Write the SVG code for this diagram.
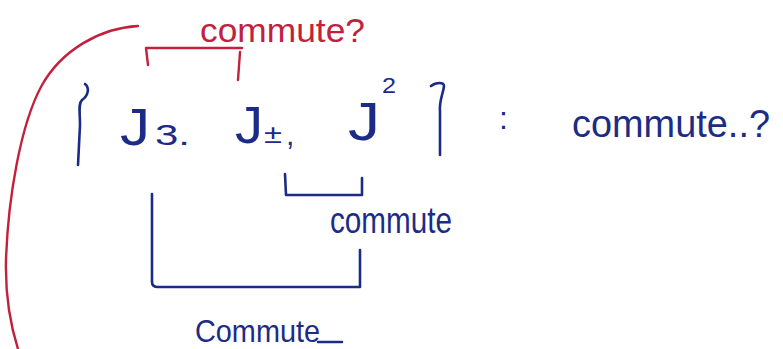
<svg xmlns="http://www.w3.org/2000/svg" width="783" height="349" viewBox="0 0 783 349">
<style>
.b{fill:#1c2c86;font-family:"Liberation Sans","DejaVu Sans",sans-serif;}
.r{fill:#c2203c;font-family:"Liberation Sans","DejaVu Sans",sans-serif;}
.lb{fill:none;stroke:#1c2c86;stroke-width:2.6;stroke-linecap:round;stroke-linejoin:round;}
.lr{fill:none;stroke:#c2203c;stroke-width:2.4;stroke-linecap:round;stroke-linejoin:round;}
</style>
<rect width="783" height="349" fill="#ffffff"/>
<g id="connectors">
<path class="lr" d="M138,26 C100,28 62,50 42,85 C20,125 8,200 6,260 C5,300 12,330 18,349"/>
<path class="lr" d="M148,65 L146,48 L242,48 M240,52 L238,80"/>
<path class="lb" d="M285,174 L286,195 L362,195 L362,178"/>
<path class="lb" d="M152,194 L152,282 Q152,287 158,287 L360,287 L360,250"/>
<path class="lb" d="M318,342 L342,342"/>
</g>
<g id="set">
<path class="lb" d="M85,84 C90,88 88,96 82,100 C78,104 80,112 80,125 L78,165"/>
<path class="lb" d="M431,86 C436,82 444,82 444,86 C443,95 439,100 440,112 L440,155"/>
</g>
<g id="j3">
<text class="b" x="120" y="145" font-size="52" textLength="30" lengthAdjust="spacingAndGlyphs">J</text>
<text class="b" x="155" y="145" font-size="30" textLength="35" lengthAdjust="spacingAndGlyphs">3.</text>
</g>
<g id="jpm">
<text class="b" x="235" y="143" font-size="52" textLength="28" lengthAdjust="spacingAndGlyphs">J</text>
<text class="b" x="264" y="143" font-size="26" textLength="18" lengthAdjust="spacingAndGlyphs">±</text>
<text class="b" x="286" y="145" font-size="30">,</text>
</g>
<g id="jsq">
<text class="b" x="348" y="140" font-size="54" textLength="32" lengthAdjust="spacingAndGlyphs">J</text>
<text class="b" x="382" y="93" font-size="22" textLength="14" lengthAdjust="spacingAndGlyphs">2</text>
</g>
<g id="colon">
<text class="b" x="499" y="129" font-size="32">:</text>
</g>
<g id="q-label">
<text class="b" x="572" y="137" font-size="38" textLength="198" lengthAdjust="spacingAndGlyphs">commute..?</text>
</g>
<g id="red-label">
<text class="r" x="200" y="42" font-size="34" textLength="165" lengthAdjust="spacingAndGlyphs">commute?</text>
</g>
<g id="mid-label">
<text class="b" x="330" y="233" font-size="36" textLength="122" lengthAdjust="spacingAndGlyphs">commute</text>
</g>
<g id="bottom-label">
<text class="b" x="195" y="342" font-size="32" textLength="125" lengthAdjust="spacingAndGlyphs">Commute</text>
</g>
</svg>
